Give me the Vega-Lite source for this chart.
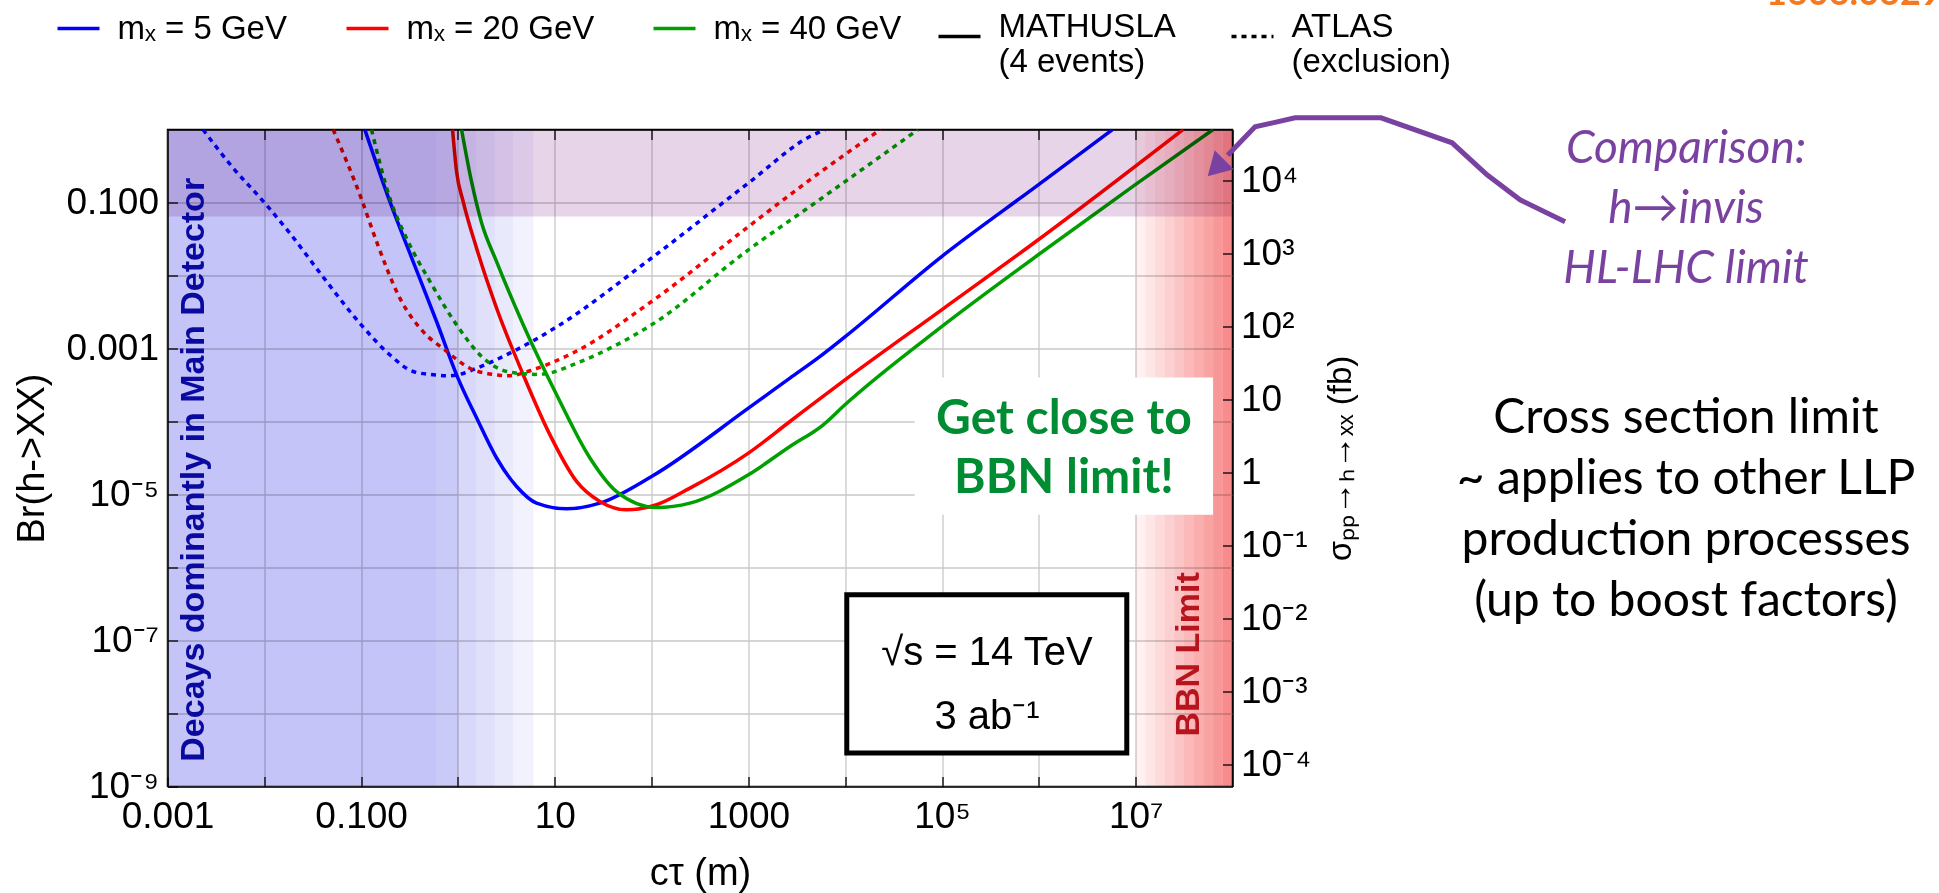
{
  "$schema": "https://vega.github.io/schema/vega-lite/v6.json",
  "width": 1065,
  "height": 657,
  "autosize": {"type": "none"},
  "padding": {"left": 167.5, "top": 129.5, "right": 706.5, "bottom": 106.5},
  "background": "white",
  "config": {
    "view": {"stroke": "black", "strokeWidth": 1.5},
    "axis": {
      "labelFont": "Liberation Sans", "labelFontSize": 37, "labelColor": "black",
      "titleFont": "Liberation Sans", "titleFontSize": 38, "titleColor": "black", "titleFontWeight": "normal",
      "domainColor": "black", "domainWidth": 1.5,
      "tickColor": "black", "tickWidth": 1.3, "tickSize": -10,
      "gridColor": "#C8C8C8", "gridWidth": 1.3, "gridOpacity": 1,
      "labelOverlap": false, "labelFlush": false
    },
    "legend": {"labelFont": "Liberation Sans", "labelFontSize": 33, "labelColor": "black", "padding": 0, "labelLimit": 400}
  },
  "resolve": {"axis": {"x": "independent", "y": "independent"}, "scale": {"opacity": "independent"}},
  "layer": [
    {
      "data": {"values": [
        {"m": "5 GeV", "exp": "MATHUSLA", "ct": 0.1091, "br": 1},
        {"m": "5 GeV", "exp": "MATHUSLA", "ct": 0.1977, "br": 0.1033},
        {"m": "5 GeV", "exp": "MATHUSLA", "ct": 0.3443, "br": 0.01549},
        {"m": "5 GeV", "exp": "MATHUSLA", "ct": 0.6012, "br": 0.002344},
        {"m": "5 GeV", "exp": "MATHUSLA", "ct": 1.0, "br": 0.0003936},
        {"m": "5 GeV", "exp": "MATHUSLA", "ct": 1.556, "br": 0.0001122},
        {"m": "5 GeV", "exp": "MATHUSLA", "ct": 2.506, "br": 3.162e-5},
        {"m": "5 GeV", "exp": "MATHUSLA", "ct": 4.036, "br": 1.288e-5},
        {"m": "5 GeV", "exp": "MATHUSLA", "ct": 6.486, "br": 7.621e-6},
        {"m": "5 GeV", "exp": "MATHUSLA", "ct": 13.24, "br": 6.368e-6},
        {"m": "5 GeV", "exp": "MATHUSLA", "ct": 29.24, "br": 7.621e-6},
        {"m": "5 GeV", "exp": "MATHUSLA", "ct": 100, "br": 1.766e-5},
        {"m": "5 GeV", "exp": "MATHUSLA", "ct": 1000, "br": 0.0001524},
        {"m": "5 GeV", "exp": "MATHUSLA", "ct": 2685, "br": 0.0003926},
        {"m": "5 GeV", "exp": "MATHUSLA", "ct": 5500, "br": 0.00078},
        {"m": "5 GeV", "exp": "MATHUSLA", "ct": 9931, "br": 0.001445},
        {"m": "5 GeV", "exp": "MATHUSLA", "ct": 99080, "br": 0.0182},
        {"m": "5 GeV", "exp": "MATHUSLA", "ct": 986300, "br": 0.1746},
        {"m": "5 GeV", "exp": "MATHUSLA", "ct": 5781000, "br": 1},

        {"m": "20 GeV", "exp": "MATHUSLA", "ct": 0.879, "br": 1},
        {"m": "20 GeV", "exp": "MATHUSLA", "ct": 0.9672, "br": 0.2661},
        {"m": "20 GeV", "exp": "MATHUSLA", "ct": 1.132, "br": 0.1033},
        {"m": "20 GeV", "exp": "MATHUSLA", "ct": 1.556, "br": 0.02371},
        {"m": "20 GeV", "exp": "MATHUSLA", "ct": 2.506, "br": 0.003573},
        {"m": "20 GeV", "exp": "MATHUSLA", "ct": 4.721, "br": 0.0004365},
        {"m": "20 GeV", "exp": "MATHUSLA", "ct": 8.892, "br": 6.607e-5},
        {"m": "20 GeV", "exp": "MATHUSLA", "ct": 16.79, "br": 1.514e-5},
        {"m": "20 GeV", "exp": "MATHUSLA", "ct": 29.24, "br": 8.035e-6},
        {"m": "20 GeV", "exp": "MATHUSLA", "ct": 55.21, "br": 6.166e-6},
        {"m": "20 GeV", "exp": "MATHUSLA", "ct": 112.7, "br": 7.244e-6},
        {"m": "20 GeV", "exp": "MATHUSLA", "ct": 248.9, "br": 1.222e-5},
        {"m": "20 GeV", "exp": "MATHUSLA", "ct": 1000, "br": 3.69e-5},
        {"m": "20 GeV", "exp": "MATHUSLA", "ct": 2685, "br": 0.0001},
        {"m": "20 GeV", "exp": "MATHUSLA", "ct": 9931, "br": 0.0003715},
        {"m": "20 GeV", "exp": "MATHUSLA", "ct": 99080, "br": 0.003388},
        {"m": "20 GeV", "exp": "MATHUSLA", "ct": 986300, "br": 0.0309},
        {"m": "20 GeV", "exp": "MATHUSLA", "ct": 30900000, "br": 1},

        {"m": "40 GeV", "exp": "MATHUSLA", "ct": 1.089, "br": 1},
        {"m": "40 GeV", "exp": "MATHUSLA", "ct": 1.38, "br": 0.1941},
        {"m": "40 GeV", "exp": "MATHUSLA", "ct": 1.738, "br": 0.05495},
        {"m": "40 GeV", "exp": "MATHUSLA", "ct": 2.506, "br": 0.01549},
        {"m": "40 GeV", "exp": "MATHUSLA", "ct": 4.721, "br": 0.002113},
        {"m": "40 GeV", "exp": "MATHUSLA", "ct": 10.45, "br": 0.0002323},
        {"m": "40 GeV", "exp": "MATHUSLA", "ct": 23.07, "br": 3.162e-5},
        {"m": "40 GeV", "exp": "MATHUSLA", "ct": 43.45, "br": 1.096e-5},
        {"m": "40 GeV", "exp": "MATHUSLA", "ct": 112.7, "br": 6.637e-6},
        {"m": "40 GeV", "exp": "MATHUSLA", "ct": 248.9, "br": 7.621e-6},
        {"m": "40 GeV", "exp": "MATHUSLA", "ct": 1000, "br": 1.862e-5},
        {"m": "40 GeV", "exp": "MATHUSLA", "ct": 2685, "br": 4.55e-5},
        {"m": "40 GeV", "exp": "MATHUSLA", "ct": 5929, "br": 9.016e-5},
        {"m": "40 GeV", "exp": "MATHUSLA", "ct": 9931, "br": 0.0001698},
        {"m": "40 GeV", "exp": "MATHUSLA", "ct": 99080, "br": 0.001995},
        {"m": "40 GeV", "exp": "MATHUSLA", "ct": 986300, "br": 0.01923},
        {"m": "40 GeV", "exp": "MATHUSLA", "ct": 9840000, "br": 0.1746},
        {"m": "40 GeV", "exp": "MATHUSLA", "ct": 63100000, "br": 1},

        {"m": "5 GeV", "exp": "ATLAS", "ct": 0.002323, "br": 1},
        {"m": "5 GeV", "exp": "ATLAS", "ct": 0.004624, "br": 0.3112},
        {"m": "5 GeV", "exp": "ATLAS", "ct": 0.01, "br": 0.1},
        {"m": "5 GeV", "exp": "ATLAS", "ct": 0.01832, "br": 0.03802},
        {"m": "5 GeV", "exp": "ATLAS", "ct": 0.04046, "br": 0.00955},
        {"m": "5 GeV", "exp": "ATLAS", "ct": 0.1, "br": 0.002113},
        {"m": "5 GeV", "exp": "ATLAS", "ct": 0.1977, "br": 0.0008204},
        {"m": "5 GeV", "exp": "ATLAS", "ct": 0.3443, "br": 0.0004842},
        {"m": "5 GeV", "exp": "ATLAS", "ct": 0.6012, "br": 0.000432},
        {"m": "5 GeV", "exp": "ATLAS", "ct": 0.776, "br": 0.000422},
        {"m": "5 GeV", "exp": "ATLAS", "ct": 0.9672, "br": 0.000432},
        {"m": "5 GeV", "exp": "ATLAS", "ct": 1.556, "br": 0.000537},
        {"m": "5 GeV", "exp": "ATLAS", "ct": 3.177, "br": 0.0008204},
        {"m": "5 GeV", "exp": "ATLAS", "ct": 10, "br": 0.001905},
        {"m": "5 GeV", "exp": "ATLAS", "ct": 100, "br": 0.01738},
        {"m": "5 GeV", "exp": "ATLAS", "ct": 1000, "br": 0.1845},
        {"m": "5 GeV", "exp": "ATLAS", "ct": 4315, "br": 0.8017},
        {"m": "5 GeV", "exp": "ATLAS", "ct": 6237, "br": 1},

        {"m": "20 GeV", "exp": "ATLAS", "ct": 0.0514, "br": 1},
        {"m": "20 GeV", "exp": "ATLAS", "ct": 0.1, "br": 0.1148},
        {"m": "20 GeV", "exp": "ATLAS", "ct": 0.1442, "br": 0.02924},
        {"m": "20 GeV", "exp": "ATLAS", "ct": 0.2512, "br": 0.004898},
        {"m": "20 GeV", "exp": "ATLAS", "ct": 0.4375, "br": 0.001698},
        {"m": "20 GeV", "exp": "ATLAS", "ct": 0.7328, "br": 0.000955},
        {"m": "20 GeV", "exp": "ATLAS", "ct": 1.327, "br": 0.000537},
        {"m": "20 GeV", "exp": "ATLAS", "ct": 2.6, "br": 0.000432},
        {"m": "20 GeV", "exp": "ATLAS", "ct": 3.17, "br": 0.000422},
        {"m": "20 GeV", "exp": "ATLAS", "ct": 3.864, "br": 0.000432},
        {"m": "20 GeV", "exp": "ATLAS", "ct": 5.534, "br": 0.0004955},
        {"m": "20 GeV", "exp": "ATLAS", "ct": 15.49, "br": 0.000871},
        {"m": "20 GeV", "exp": "ATLAS", "ct": 100, "br": 0.004406},
        {"m": "20 GeV", "exp": "ATLAS", "ct": 1000, "br": 0.04677},
        {"m": "20 GeV", "exp": "ATLAS", "ct": 4315, "br": 0.2046},
        {"m": "20 GeV", "exp": "ATLAS", "ct": 23174, "br": 1},

        {"m": "40 GeV", "exp": "ATLAS", "ct": 0.1279, "br": 1},
        {"m": "40 GeV", "exp": "ATLAS", "ct": 0.1977, "br": 0.1148},
        {"m": "40 GeV", "exp": "ATLAS", "ct": 0.2944, "br": 0.03236},
        {"m": "40 GeV", "exp": "ATLAS", "ct": 0.5129, "br": 0.008318},
        {"m": "40 GeV", "exp": "ATLAS", "ct": 0.9672, "br": 0.002113},
        {"m": "40 GeV", "exp": "ATLAS", "ct": 1.824, "br": 0.0007413},
        {"m": "40 GeV", "exp": "ATLAS", "ct": 3.177, "br": 0.0004842},
        {"m": "40 GeV", "exp": "ATLAS", "ct": 4.721, "br": 0.000452},
        {"m": "40 GeV", "exp": "ATLAS", "ct": 6.23, "br": 0.000442},
        {"m": "40 GeV", "exp": "ATLAS", "ct": 8.222, "br": 0.000452},
        {"m": "40 GeV", "exp": "ATLAS", "ct": 15.49, "br": 0.0006026},
        {"m": "40 GeV", "exp": "ATLAS", "ct": 100, "br": 0.002113},
        {"m": "40 GeV", "exp": "ATLAS", "ct": 1000, "br": 0.02249},
        {"m": "40 GeV", "exp": "ATLAS", "ct": 4315, "br": 0.0881},
        {"m": "40 GeV", "exp": "ATLAS", "ct": 56750, "br": 1}
      ]},
      "mark": {"type": "line", "strokeWidth": 3.5, "interpolate": "monotone", "clip": true},
      "encoding": {
        "x": {"field": "ct", "type": "quantitative",
          "scale": {"type": "log", "domain": [0.001, 100000000], "nice": false},
          "axis": {"orient": "bottom", "title": "cτ (m)", "grid": true,
            "values": [0.001, 0.01, 0.1, 1, 10, 100, 1000, 10000, 100000, 1000000, 10000000],
            "labelExpr": "datum.value == 0.001 ? '0.001' : datum.value == 0.1 ? '0.100' : datum.value == 10 ? '10' : datum.value == 1000 ? '1000' : datum.value == 100000 ? '10⁵' : datum.value == 10000000 ? '10⁷' : ''",
            "labelPadding": 22, "titlePadding": 20}},
        "y": {"field": "br", "type": "quantitative",
          "scale": {"type": "log", "domain": [1e-9, 1], "nice": false},
          "axis": {"orient": "left", "title": "Br(h->XX)", "grid": true,
            "values": [1e-9, 1e-8, 1e-7, 1e-6, 1e-5, 1e-4, 0.001, 0.01, 0.1],
            "labelExpr": "datum.value == 0.1 ? '0.100' : datum.value == 0.001 ? '0.001' : datum.value == 0.00001 ? '10⁻⁵' : datum.value == 1e-7 ? '10⁻⁷' : datum.value == 1e-9 ? '10⁻⁹' : ''",
            "labelPadding": 19, "titlePadding": 14}},
        "color": {"field": "m", "type": "nominal",
          "scale": {"domain": ["5 GeV", "20 GeV", "40 GeV"], "range": ["#0000FF", "#FF0000", "#00A000"]},
          "legend": {"orient": "none", "legendX": -112, "legendY": -124, "direction": "horizontal", "title": null,
            "symbolType": "stroke", "symbolSize": 1764, "symbolStrokeWidth": 3.5, "labelOffset": 16, "columnPadding": 52,
            "labelBaseline": "middle", "labelExpr": "'mₓ = ' + datum.label"}},
        "strokeDash": {"field": "exp", "type": "nominal",
          "scale": {"domain": ["MATHUSLA", "ATLAS"], "range": [[2000, 1], [5, 5]]},
          "legend": {"orient": "none", "legendX": 769, "legendY": -116, "direction": "horizontal", "title": null,
            "symbolType": "stroke", "symbolSize": 1764, "symbolStrokeWidth": 3.5, "symbolStrokeColor": "black", "labelOffset": 16, "columnPadding": 48,
            "labelBaseline": "alphabetic",
            "labelExpr": "datum.label == 'MATHUSLA' ? ['MATHUSLA', '(4 events)'] : ['ATLAS', '(exclusion)']"}}
      }
    },
    {
      "data": {"values": [
        {"lo": 0.001, "hi": 0.6, "level": 1},
        {"lo": 0.6, "hi": 1.0, "level": 2},
        {"lo": 1.0, "hi": 1.53, "level": 3},
        {"lo": 1.53, "hi": 2.4, "level": 4},
        {"lo": 2.4, "hi": 3.7, "level": 5},
        {"lo": 3.7, "hi": 6.0, "level": 6}
      ]},
      "mark": {"type": "rect", "color": "#C4C4F8", "blend": "multiply"},
      "encoding": {
        "x": {"field": "lo", "type": "quantitative", "scale": {"type": "log", "domain": [0.001, 100000000], "nice": false}, "axis": null},
        "x2": {"field": "hi"},
        "opacity": {"field": "level", "type": "quantitative", "scale": {"domain": [1, 2, 3, 4, 5, 6], "range": [1, 0.9, 0.66, 0.52, 0.38, 0.22]}, "legend": null}
      }
    },
    {
      "data": {"values": [
        {"lo": 10000000, "hi": 12590000, "level": 1},
        {"lo": 12590000, "hi": 15850000, "level": 2},
        {"lo": 15850000, "hi": 19950000, "level": 3},
        {"lo": 19950000, "hi": 25120000, "level": 4},
        {"lo": 25120000, "hi": 31620000, "level": 5},
        {"lo": 31620000, "hi": 39810000, "level": 6},
        {"lo": 39810000, "hi": 50120000, "level": 7},
        {"lo": 50120000, "hi": 63100000, "level": 8},
        {"lo": 63100000, "hi": 79430000, "level": 9},
        {"lo": 79430000, "hi": 100000000, "level": 10}
      ]},
      "mark": {"type": "rect", "color": "#F88C8C", "blend": "multiply"},
      "encoding": {
        "x": {"field": "lo", "type": "quantitative", "scale": {"type": "log", "domain": [0.001, 100000000], "nice": false}, "axis": null},
        "x2": {"field": "hi"},
        "opacity": {"field": "level", "type": "quantitative", "scale": {"domain": [1, 10], "range": [0.12, 1]}, "legend": null}
      }
    },
    {
      "data": {"values": [{"lo": 0.001, "hi": 100000000, "blo": 0.0645, "bhi": 1}]},
      "mark": {"type": "rect", "color": "#E8D4E8", "blend": "multiply"},
      "encoding": {
        "x": {"field": "lo", "type": "quantitative", "scale": {"type": "log", "domain": [0.001, 100000000], "nice": false},
          "axis": {"orient": "top", "labels": false, "title": null, "grid": false,
            "values": [0.01, 0.1, 1, 10, 100, 1000, 10000, 100000, 1000000, 10000000]}},
        "x2": {"field": "hi"},
        "y": {"field": "blo", "type": "quantitative", "scale": {"type": "log", "domain": [1e-9, 1], "nice": false},
          "axis": {"orient": "right", "title": "σₚₚ→ₕ→ₓₓ (fb)", "titleFontSize": 33, "titleAngle": 270, "titleBaseline": "top", "titlePadding": 14,
            "grid": false, "labelPadding": 18,
            "values": [2e-9, 2e-8, 2e-7, 2e-6, 2e-5, 2e-4, 0.002, 0.02, 0.2],
            "labelExpr": "['10⁻⁴','10⁻³','10⁻²','10⁻¹','1','10','10²','10³','10⁴'][round(log(datum.value*50000)/LN10)+4]"}},
        "y2": {"field": "bhi"}
      }
    },
    {
      "data": {"values": [
        {"kind": "note", "lo": 52120, "hi": 62950000, "blo": 5.272e-6, "bhi": 0.0004009}
      ]},
      "mark": {"type": "rect", "color": "white"},
      "encoding": {
        "x": {"field": "lo", "type": "quantitative", "scale": {"type": "log", "domain": [0.001, 100000000], "nice": false}, "axis": null},
        "x2": {"field": "hi"},
        "y": {"field": "blo", "type": "quantitative", "scale": {"type": "log", "domain": [1e-9, 1], "nice": false}, "axis": null},
        "y2": {"field": "bhi"}
      }
    },
    {
      "data": {"values": [
        {"kind": "box", "lo": 10375, "hi": 8091000, "blo": 2.871e-9, "bhi": 4.227e-7}
      ]},
      "mark": {"type": "rect", "fill": "white", "stroke": "black", "strokeWidth": 5},
      "encoding": {
        "x": {"field": "lo", "type": "quantitative", "scale": {"type": "log", "domain": [0.001, 100000000], "nice": false}, "axis": null},
        "x2": {"field": "hi"},
        "y": {"field": "blo", "type": "quantitative", "scale": {"type": "log", "domain": [1e-9, 1], "nice": false}, "axis": null},
        "y2": {"field": "bhi"}
      }
    },
    {
      "data": {"values": [{"x": 0.00189, "y": 2.18e-5, "t": "Decays dominantly in Main Detector"}]},
      "mark": {"type": "text", "font": "Liberation Sans", "fontSize": 34, "fontWeight": "bold", "color": "#0A0AA0", "angle": 270, "align": "center", "baseline": "middle"},
      "encoding": {
        "x": {"field": "x", "type": "quantitative", "scale": {"type": "log", "domain": [0.001, 100000000], "nice": false}, "axis": null},
        "y": {"field": "y", "type": "quantitative", "scale": {"type": "log", "domain": [1e-9, 1], "nice": false}, "axis": null},
        "text": {"field": "t"}
      }
    },
    {
      "data": {"values": [{"x": 35560000, "y": 6.457e-8, "t": "BBN Limit"}]},
      "mark": {"type": "text", "font": "Liberation Sans", "fontSize": 34, "fontWeight": "bold", "color": "#B8141E", "angle": 270, "align": "center", "baseline": "middle"},
      "encoding": {
        "x": {"field": "x", "type": "quantitative", "scale": {"type": "log", "domain": [0.001, 100000000], "nice": false}, "axis": null},
        "y": {"field": "y", "type": "quantitative", "scale": {"type": "log", "domain": [1e-9, 1], "nice": false}, "axis": null},
        "text": {"field": "t"}
      }
    },
    {
      "data": {"values": [{"x": 1816000, "y": 0.0001059, "t": "Get close to\nBBN limit!"}]},
      "mark": {"type": "text", "font": "Lato", "fontSize": 48, "fontWeight": "bold", "color": "#008C32", "align": "center", "baseline": "middle", "lineBreak": "\n", "lineHeight": 59},
      "encoding": {
        "x": {"field": "x", "type": "quantitative", "scale": {"type": "log", "domain": [0.001, 100000000], "nice": false}, "axis": null},
        "y": {"field": "y", "type": "quantitative", "scale": {"type": "log", "domain": [1e-9, 1], "nice": false}, "axis": null},
        "text": {"field": "t"}
      }
    },
    {
      "data": {"values": [{"x": 291100, "y": 6.637e-8, "t": "√s = 14 TeV\n3 ab⁻¹"}]},
      "mark": {"type": "text", "font": "Liberation Sans", "fontSize": 40, "color": "black", "align": "center", "baseline": "middle", "lineBreak": "\n", "lineHeight": 64},
      "encoding": {
        "x": {"field": "x", "type": "quantitative", "scale": {"type": "log", "domain": [0.001, 100000000], "nice": false}, "axis": null},
        "y": {"field": "y", "type": "quantitative", "scale": {"type": "log", "domain": [1e-9, 1], "nice": false}, "axis": null},
        "text": {"field": "t"}
      }
    },
    {
      "data": {"values": [{"x": 4840000000000, "y": 0.5355, "t": "Comparison:\nh→invis\nHL-LHC limit"}]},
      "mark": {"type": "text", "font": "Lato", "fontSize": 46, "fontStyle": "italic", "color": "#7A42A0", "align": "center", "baseline": "middle", "lineBreak": "\n", "lineHeight": 60},
      "encoding": {
        "x": {"field": "x", "type": "quantitative", "scale": {"type": "log", "domain": [0.001, 100000000], "nice": false}, "axis": null},
        "y": {"field": "y", "type": "quantitative", "scale": {"type": "log", "domain": [1e-9, 1], "nice": false}, "axis": null},
        "text": {"field": "t"}
      }
    },
    {
      "data": {"values": [{"x": 4840000000000, "y": 0.0001092, "t": "Cross section limit\n~ applies to other LLP\nproduction processes\n(up to boost factors)"}]},
      "mark": {"type": "text", "font": "Lato", "fontSize": 48, "color": "black", "align": "center", "baseline": "middle", "lineBreak": "\n", "lineHeight": 61},
      "encoding": {
        "x": {"field": "x", "type": "quantitative", "scale": {"type": "log", "domain": [0.001, 100000000], "nice": false}, "axis": null},
        "y": {"field": "y", "type": "quantitative", "scale": {"type": "log", "domain": [1e-9, 1], "nice": false}, "axis": null},
        "text": {"field": "t"}
      }
    },
    {
      "data": {"values": [{"x": 32430000000000, "y": 51.05, "t": "1606.06298"}]},
      "mark": {"type": "text", "font": "Lato", "fontSize": 36, "fontWeight": "bold", "color": "#F47920", "align": "left", "baseline": "alphabetic"},
      "encoding": {
        "x": {"field": "x", "type": "quantitative", "scale": {"type": "log", "domain": [0.001, 100000000], "nice": false}, "axis": null},
        "y": {"field": "y", "type": "quantitative", "scale": {"type": "log", "domain": [1e-9, 1], "nice": false}, "axis": null},
        "text": {"field": "t"}
      }
    },
    {
      "data": {"values": [
        {"seq": 1, "x": 272300000000, "y": 0.05445},
        {"seq": 2, "x": 93330000000, "y": 0.1089},
        {"seq": 3, "x": 42560000000, "y": 0.2393},
        {"seq": 4, "x": 18540000000, "y": 0.6577},
        {"seq": 5, "x": 3420000000, "y": 1.4454},
        {"seq": 6, "x": 442600000, "y": 1.4454},
        {"seq": 7, "x": 171000000, "y": 1.089},
        {"seq": 8, "x": 89130000, "y": 0.4446}
      ]},
      "mark": {"type": "line", "color": "#7A42A0", "strokeWidth": 5, "strokeJoin": "miter"},
      "encoding": {
        "x": {"field": "x", "type": "quantitative", "scale": {"type": "log", "domain": [0.001, 100000000], "nice": false}, "axis": null},
        "y": {"field": "y", "type": "quantitative", "scale": {"type": "log", "domain": [1e-9, 1], "nice": false}, "axis": null},
        "order": {"field": "seq", "type": "quantitative"}
      }
    },
    {
      "data": {"values": [{"x": 67450000, "y": 0.296}]},
      "mark": {"type": "point", "shape": "triangle-up", "size": 729, "angle": 225, "filled": true, "color": "#7A42A0", "opacity": 1},
      "encoding": {
        "x": {"field": "x", "type": "quantitative", "scale": {"type": "log", "domain": [0.001, 100000000], "nice": false}, "axis": null},
        "y": {"field": "y", "type": "quantitative", "scale": {"type": "log", "domain": [1e-9, 1], "nice": false}, "axis": null}
      }
    }
  ]
}
